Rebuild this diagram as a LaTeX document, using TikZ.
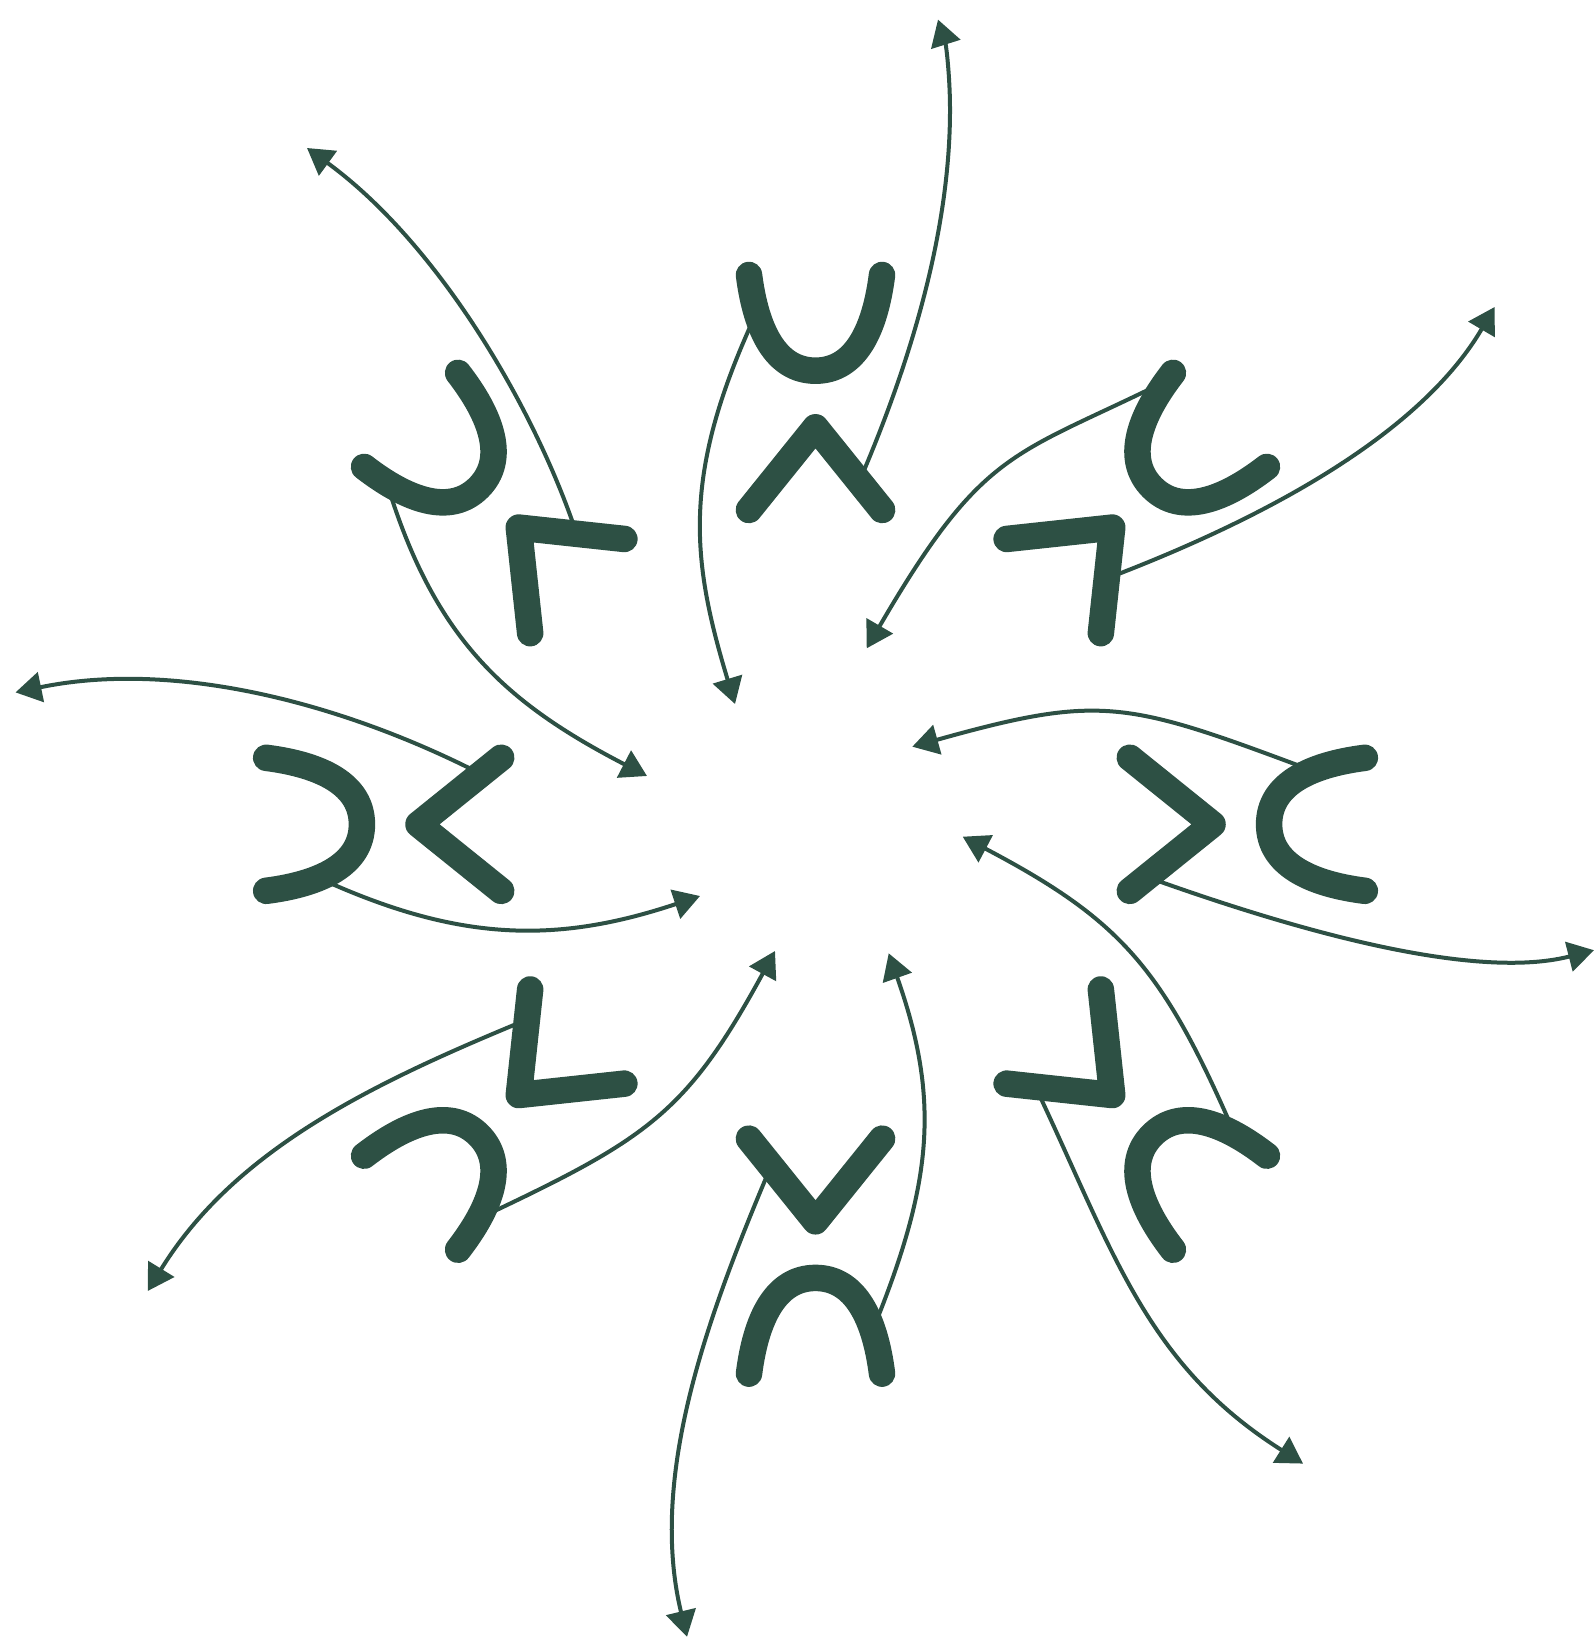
\documentclass[tikz,border=0pt]{standalone}
\usetikzlibrary{arrows.meta}
\definecolor{ink}{HTML}{2D5044}
\tikzset{
  thickstroke/.style={draw=ink, line width=13.25pt, line cap=round, line join=round},
  thinarrow/.style={draw=ink, line width=2pt, -{Triangle[length=13pt,width=15pt]}},
}
\newcommand\unitshapes{%
  \draw[thickstroke] (-66.5,-549.3) .. controls (-59.5,-494.3) and (-39.8,-453.6) .. (0,-453.6)
     .. controls (39.8,-453.6) and (59.5,-494.3) .. (66.5,-549.3);
  \draw[thickstroke] (-66.6,-314.3) -- (0,-397) -- (66.6,-314.3);
}
\begin{document}
\begin{tikzpicture}[x=0.5pt,y=-0.5pt]
\useasboundingbox (0,0) rectangle (1594,1647);
% ---- thin arrows ----
% top
\draw[thinarrow] (755,316) .. controls (681.8,474.7) and (690.9,558.5) .. (735,704);
\draw[thinarrow] (859.5,481) .. controls (905,375) and (950,240) .. (950,110) .. controls (950,75) and (946,45) .. (938,19.6);
% upper left
\draw[thinarrow] (389,490) .. controls (436.4,640.2) and (506.3,703.1) .. (647,776);
\draw[thinarrow] (576,532) .. controls (535,410) and (440,245) .. (307,148);
% upper right
\draw[thinarrow] (1154,387) .. controls (1012,456.4) and (980.9,452) .. (866.7,648.3);
\draw[thinarrow] (1108,578) .. controls (1247.5,524.8) and (1415.7,441.5) .. (1494.6,307);
% left
\draw[thinarrow] (321,879) .. controls (458.6,941.6) and (555.7,944.1) .. (700,896);
\draw[thinarrow] (481,774) .. controls (341,702.3) and (173.6,659.6) .. (15.5,692.4);
% right
\draw[thinarrow] (1308,769) .. controls (1126,701) and (1100.8,693.9) .. (912.3,746.7);
\draw[thinarrow] (1147,877) .. controls (1266.2,919.8) and (1465.5,983.1) .. (1594,950.2);
% bottom
\draw[thinarrow] (874,1327) .. controls (932,1183.3) and (940.8,1100.9) .. (888.7,953.3);
\draw[thinarrow] (771,1166) .. controls (708.8,1313.3) and (647.9,1475.1) .. (687,1636.8);
% lower left
\draw[thinarrow] (484,1216) .. controls (648,1138.4) and (687,1112.6) .. (775,951);
\draw[thinarrow] (526,1020) .. controls (374,1082.6) and (235.1,1148.9) .. (147.7,1291);
% lower right
\draw[thinarrow] (1233,1130) .. controls (1162.2,967.6) and (1120.6,919.8) .. (962.7,836.7);
\draw[thinarrow] (1036,1088) .. controls (1113.1,1250.8) and (1145.4,1364) .. (1303,1463.6);
% ---- thick shapes ----
\begin{scope}[shift={(815.5,824.3)}] \unitshapes \end{scope}
\begin{scope}[shift={(799.5,808.3)}, rotate=45] \unitshapes \end{scope}
\begin{scope}[shift={(815.5,824.3)}, rotate=90] \unitshapes \end{scope}
\begin{scope}[shift={(799.5,814.3)}, rotate=135] \unitshapes \end{scope}
\begin{scope}[shift={(815.5,824.3)}, rotate=180] \unitshapes \end{scope}
\begin{scope}[shift={(831.5,814.3)}, rotate=225] \unitshapes \end{scope}
\begin{scope}[shift={(815.5,824.3)}, rotate=270] \unitshapes \end{scope}
\begin{scope}[shift={(831.5,808.3)}, rotate=315] \unitshapes \end{scope}
\end{tikzpicture}
\end{document}
